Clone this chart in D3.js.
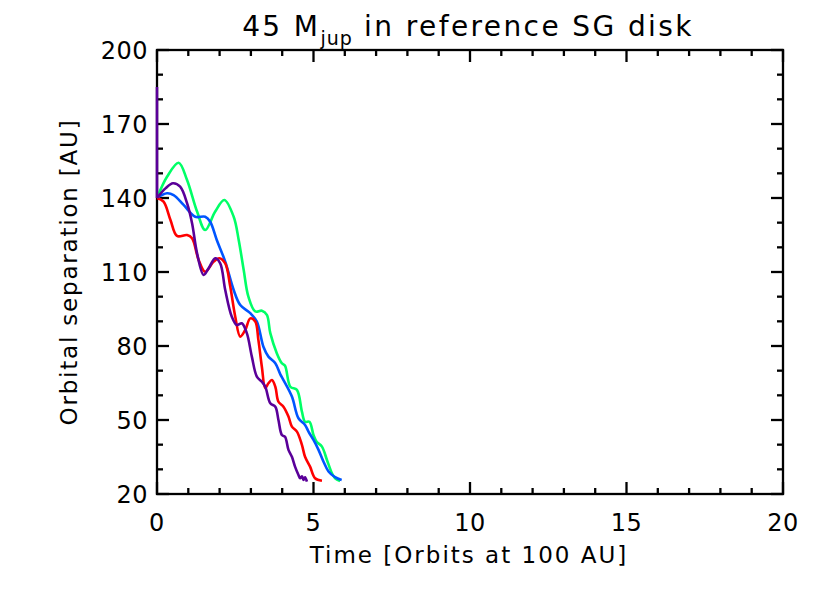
<!DOCTYPE html>
<html>
<head>
<meta charset="utf-8">
<script src="https://cdn.jsdelivr.net/npm/d3@7"></script>
<style>
  body { margin: 0; background: #fff; }
  svg text { font-family: "DejaVu Sans", sans-serif; fill: #000; }
</style>
</head>
<body>
<div id="chart"></div>
<script>
// orbital separation vs time, four runs
var greenT  = [0, 0.32, 0.69, 0.96, 1.28, 1.54, 1.86, 2.15, 2.45, 2.61, 2.77, 2.92, 3.14, 3.35, 3.51, 3.62, 3.83, 3.99, 4.09, 4.26, 4.47, 4.63, 4.73, 4.87, 5.0, 5.1, 5.27, 5.43, 5.59, 5.69, 5.85];
var greenAU = [140, 148.6, 154.3, 147.3, 134.5, 127, 134.5, 139.2, 132.4, 123, 110.8, 100, 94, 94.3, 92.6, 85.2, 77, 73, 72, 63.5, 62.2, 53.4, 49.3, 49.3, 43.9, 41.2, 39.2, 33.8, 28.4, 26.4, 25.3];

var blueT  = [0, 0.32, 0.53, 0.85, 1.22, 1.54, 1.7, 1.91, 2.18, 2.45, 2.66, 2.98, 3.19, 3.4, 3.56, 3.78, 3.94, 4.04, 4.31, 4.52, 4.73, 4.84, 5.0, 5.16, 5.32, 5.48, 5.69, 5.9];
var blueAU = [140, 141.9, 141.2, 137.2, 132.4, 132.4, 130.4, 123, 114.2, 102.7, 96.6, 93.3, 89.9, 79.7, 75.7, 73, 68.5, 66.2, 59.5, 50.7, 48, 45.3, 41.9, 37.9, 33.1, 29.1, 26.8, 25.7];

var redT  = [0, 0.21, 0.43, 0.64, 0.96, 1.12, 1.33, 1.54, 1.81, 1.99, 2.18, 2.34, 2.5, 2.66, 2.82, 2.98, 3.14, 3.24, 3.35, 3.46, 3.56, 3.67, 3.78, 3.88, 4.04, 4.2, 4.31, 4.47, 4.63, 4.73, 4.89, 5.05, 5.27];
var redAU = [140, 138.5, 131.1, 124.6, 125, 123.7, 114.9, 110.1, 114.2, 115.6, 113.5, 104.1, 91.9, 83.8, 86.5, 91.2, 89.9, 82.4, 71.6, 62.9, 64.9, 66.2, 63.5, 57.4, 55.4, 51.4, 47.3, 45.3, 39.9, 35.1, 31.1, 26.4, 25.4];

// first point is the jump at t = 0 from 185 AU
var purpleT  = [0, 0, 0.27, 0.51, 0.74, 0.96, 1.12, 1.28, 1.49, 1.65, 1.86, 2.02, 2.18, 2.39, 2.55, 2.71, 2.87, 3.03, 3.19, 3.35, 3.46, 3.62, 3.78, 3.88, 3.99, 4.09, 4.2, 4.31, 4.41, 4.52, 4.57, 4.63, 4.68, 4.73, 4.79];
var purpleAU = [185, 140, 143.9, 146, 144.6, 137.9, 129.8, 117.6, 108.8, 111.5, 115.6, 113.5, 102.7, 91.9, 88.5, 89.2, 85.2, 75.7, 67.6, 65.5, 63.5, 56.8, 55.4, 50, 43.9, 43.2, 37.9, 35.1, 31.1, 27.7, 26.4, 27.2, 25.7, 26.8, 25.0];

var seriesColors = ["#00ff66", "#0055ff", "#ff0000", "#5a0099"];

var xTicks = [0, 5, 10, 15, 20];
var yTicks = [20, 50, 80, 110, 140, 170, 200];

var W = 830, H = 593;
var margin = {top: 50, right: 47, bottom: 99, left: 157};
var width = W - margin.left - margin.right,
    height = H - margin.top - margin.bottom;

var svg = d3.select("#chart").append("svg")
    .attr("width", W)
    .attr("height", H);

var g = svg.append("g")
    .attr("transform", "translate(" + margin.left + "," + margin.top + ")");

var x = d3.scaleLinear().domain([0, 20]).range([0, width]);
var y = d3.scaleLinear().domain([20, 200]).range([height, 0]);

// IDL style box with inward ticks on all four sides
var majorLen = 12, minorLen = 6;
var xMinor = d3.range(0, 21, 1);
var yMinor = d3.range(20, 201, 10);

function xTick(v) { return xTicks.indexOf(v) >= 0 ? majorLen : minorLen; }
function yTick(v) { return yTicks.indexOf(v) >= 0 ? majorLen : minorLen; }

var axes = g.append("g").attr("stroke", "#000").attr("stroke-width", 2.3);

xMinor.forEach(function(v) {
  axes.append("line").attr("x1", x(v)).attr("x2", x(v))
    .attr("y1", height).attr("y2", height - xTick(v));
  axes.append("line").attr("x1", x(v)).attr("x2", x(v))
    .attr("y1", 0).attr("y2", xTick(v));
});
yMinor.forEach(function(v) {
  axes.append("line").attr("x1", 0).attr("x2", yTick(v))
    .attr("y1", y(v)).attr("y2", y(v));
  axes.append("line").attr("x1", width).attr("x2", width - yTick(v))
    .attr("y1", y(v)).attr("y2", y(v));
});

axes.append("rect")
  .attr("x", 0).attr("y", 0)
  .attr("width", width).attr("height", height)
  .attr("fill", "none");

// data lines go over the box, like oplot
var table = [
  {t: greenT, v: greenAU},
  {t: blueT, v: blueAU},
  {t: redT, v: redAU},
  {t: purpleT, v: purpleAU}
];

var smooth = d3.line()
    .x(function(d) { return x(d[0]); })
    .y(function(d) { return y(d[1]); })
    .curve(d3.curveCatmullRom.alpha(0.5));
var straight = d3.line()
    .x(function(d) { return x(d[0]); })
    .y(function(d) { return y(d[1]); });

table.forEach(function(s, i) {
  var pts = s.t.map(function(t, j) { return [t, s.v[j]]; });
  // repeated time at the start -> draw that jump straight, smooth the rest
  var k = 0;
  while (k + 1 < pts.length && pts[k + 1][0] === pts[k][0]) k++;
  if (k > 0) {
    g.append("path")
      .attr("d", straight(pts.slice(0, k + 1)))
      .attr("fill", "none")
      .attr("stroke", seriesColors[i])
      .attr("stroke-width", 2.6);
  }
  g.append("path")
    .attr("d", smooth(pts.slice(k)))
    .attr("fill", "none")
    .attr("stroke", seriesColors[i])
    .attr("stroke-width", 2.6)
    .attr("stroke-linejoin", "round");
});

// tick labels
g.selectAll(".xlab").data(xTicks).enter()
  .append("text")
  .attr("class", "xlab")
  .attr("x", function(d) { return x(d); })
  .attr("y", height + 37)
  .attr("text-anchor", "middle")
  .style("font-size", "24px")
  .style("letter-spacing", "0.5px")
  .text(function(d) { return d; });

g.selectAll(".ylab").data(yTicks).enter()
  .append("text")
  .attr("class", "ylab")
  .attr("x", -9)
  .attr("y", function(d) { return y(d) + 9; })
  .attr("text-anchor", "end")
  .style("font-size", "24px")
  .style("letter-spacing", "0.5px")
  .text(function(d) { return d; });

// axis titles
svg.append("text")
  .attr("x", 469)
  .attr("y", 563)
  .attr("text-anchor", "middle")
  .style("font-size", "23px")
  .style("letter-spacing", "2px")
  .text("Time [Orbits at 100 AU]");

svg.append("text")
  .attr("transform", "translate(77,272) rotate(-90)")
  .attr("text-anchor", "middle")
  .style("font-size", "23px")
  .style("letter-spacing", "1.8px")
  .text("Orbital separation [AU]");

// main title with subscript
var title = svg.append("text")
  .attr("x", 468)
  .attr("y", 36)
  .attr("text-anchor", "middle")
  .style("font-size", "28px")
  .style("letter-spacing", "2.4px");
title.append("tspan").text("45 M");
title.append("tspan").attr("dy", 9).style("font-size", "19px").style("letter-spacing", "1px").text("jup");
title.append("tspan").attr("dy", -9).text(" in reference SG disk");
</script>
</body>
</html>
